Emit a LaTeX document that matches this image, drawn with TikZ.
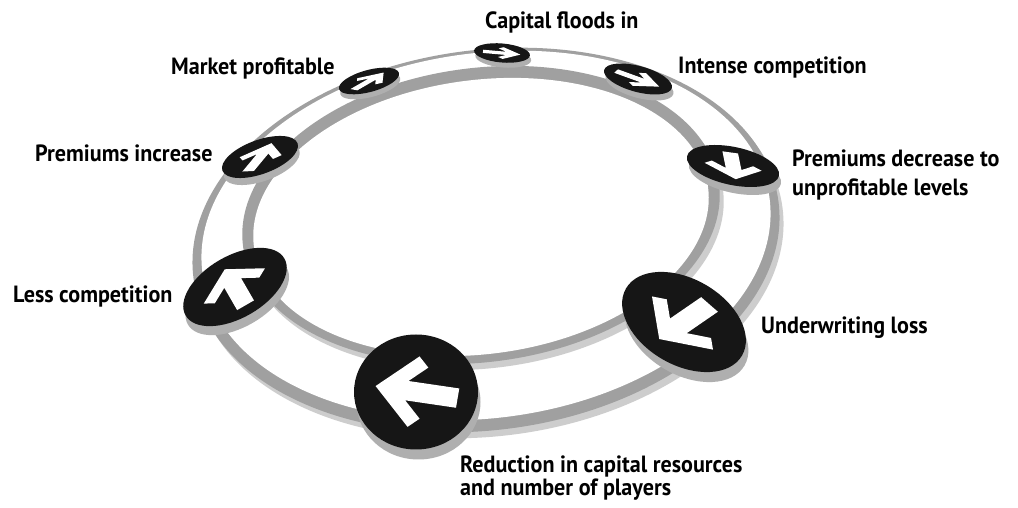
\documentclass[tikz,border=0pt]{standalone}
\usepackage{fontspec}
\setmainfont{PT Sans}[FakeStretch=0.94]
\usetikzlibrary{shapes.geometric}
\definecolor{bandcol}{RGB}{160,160,160}
\definecolor{shadecol}{RGB}{205,205,205}
\definecolor{badgeshade}{RGB}{175,175,175}
\definecolor{badgeblack}{RGB}{22,22,22}
\tikzset{
  badge/.style={ellipse, fill=badgeblack, inner sep=0pt, outer sep=0pt, draw=none},
  lbl/.style={anchor=base west, inner sep=0pt, align=left, font=\fontsize{23.5}{29.5}\selectfont\bfseries},
}
\newcommand\ringbadge[8]{%
  \begin{scope}[shift={({#2+0.25*#8},{508-#3-#8})}, rotate=#6]
    \fill[badgeshade] (0,0) ellipse [x radius=#4, y radius=#5];
  \end{scope}
  \node[badge, minimum width={2*#4}, minimum height={2*#5}, rotate=#6] (#1) at ({#2},{508-#3}) {};
  \begin{scope}[shift={({#2},{508-#3})}, rotate=#6, xscale=#4, yscale=#5, rotate=#7]
    \fill[white] (0.66,0) -- (0.04,0.62) -- (-0.13,0.45) -- (0.15,0.17) -- (-0.68,0.17)
      -- (-0.68,-0.17) -- (0.15,-0.17) -- (-0.13,-0.45) -- (0.04,-0.62) -- cycle;
  \end{scope}}
\begin{document}
\begin{tikzpicture}[x=1pt,y=1pt]
\useasboundingbox (0,0) rectangle (1018,508);
\fill[white] (0,0) rectangle (1018,508);
% outer rim
\fill[shadecol] (490,262) ellipse [x radius=295, y radius=190, rotate=7.5];
\fill[bandcol] (486,268) ellipse [x radius=295, y radius=190, rotate=7.5];
\fill[white] (486,272.5) ellipse [x radius=286, y radius=182.5, rotate=7.5];
% inner rim
\fill[shadecol] (485,287) ellipse [x radius=240, y radius=147, rotate=7.5];
\fill[bandcol] (481,293) ellipse [x radius=240, y radius=147, rotate=7.5];
\fill[white] (481,291) ellipse [x radius=229, y radius=137, rotate=7.5];
% badges: name, cx, cy(from top), rx, ry, tilt, arrow angle, shadow drop
\ringbadge{b1}{502}{53}{28}{9.5}{-5}{0}{5}
\ringbadge{b2}{369}{81}{31}{11}{15}{37}{5}
\ringbadge{b3}{638}{79}{35}{13}{-15}{-13}{6}
\ringbadge{b4}{260}{157}{40}{17}{20}{54}{7}
\ringbadge{b5}{733}{166}{47}{19}{-12}{-80}{8}
\ringbadge{b6}{235}{287}{57}{31}{30}{90}{9}
\ringbadge{b7}{416}{392}{62}{57.5}{0}{171}{10}
\ringbadge{b8}{684}{322}{67}{43}{-30}{-107}{10}
% labels
\node[lbl] (t1) at (485,479) {Capital floods in};
\node[lbl] (t2) at (678,434) {Intense competition};
\node[lbl] (t3) at (171,433) {Market profitable};
\node[lbl] (t4) at (35,346) {Premiums increase};
\node[lbl] (t5) at (792,312) {Premiums decrease to\\unprofitable levels};
\node[lbl] (t6) at (13,205) {Less competition};
\node[lbl] (t7) at (761,174) {Underwriting loss};
\node[lbl, font=\fontsize{23.5}{23.5}\selectfont\bfseries] (t8) at (460,12) {Reduction in capital resources\\and number of players};
\end{tikzpicture}
\end{document}
